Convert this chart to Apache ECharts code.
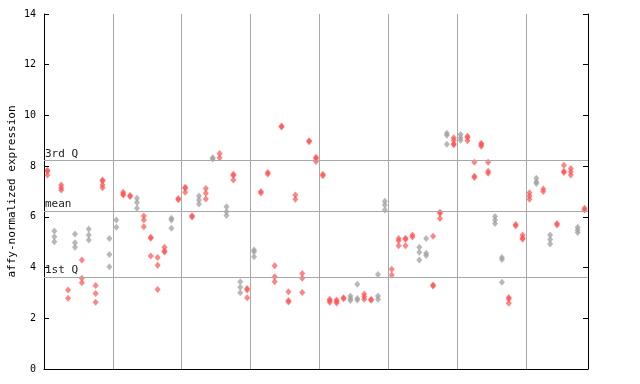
<!DOCTYPE html>
<html><head><meta charset="utf-8">
<script src="https://cdn.jsdelivr.net/npm/echarts@6/dist/echarts.min.js"></script>
<style>html,body{margin:0;padding:0;background:#fff}#c{width:640px;height:384px}</style>
</head><body><div id="c"></div>
<script>
// one entry per sample (replicate values)
const sampleValues = [
  [7.84,7.80,7.65],[5.44,5.22,5.02],[7.26,7.15,7.06],[3.12,2.79],[5.32,4.98,4.80],
  [4.30,3.58,3.40],[5.52,5.28,5.09],[3.29,2.98,2.63],[7.45,7.41,7.26,7.15],[5.15,4.52,4.03],
  [5.88,5.59],[6.97,6.90,6.86],[6.84,6.80],[6.73,6.57,6.34],[6.03,5.88,5.61],
  [5.20,5.16,4.46],[4.40,4.09,3.14],[4.80,4.65,4.61],[5.95,5.88,5.55],[6.72,6.67],
  [7.17,7.13,6.97],[6.04,5.99],[6.82,6.66,6.51],[7.12,6.93,6.70],[8.33,8.28],
  [8.50,8.33],[6.40,6.20,6.05],[7.68,7.63,7.45],[3.44,3.22,3.01],[3.17,3.12,2.81],
  [4.69,4.62,4.43],[7.00,6.94],[7.75,7.69],[4.07,3.64,3.44],[9.58,9.54],
  [3.05,2.70,2.64],[6.86,6.69],[3.77,3.58,3.02],[9.00,8.96],[8.35,8.30,8.18],
  [7.68,7.62],[2.75,2.69,2.63],[2.72,2.66,2.60],[2.81,2.77],[2.88,2.78,2.70],
  [3.34,2.78,2.72],[2.96,2.85,2.75],[2.75,2.71],[3.73,2.88,2.75],[6.62,6.47,6.27],
  [3.93,3.71],[5.15,5.06,4.86],[5.16,5.11,4.86],[5.28,5.21],[4.80,4.60,4.30],
  [5.15,4.56,4.48],[5.24,3.31,3.27],[6.18,6.13,5.94],[9.30,9.22,8.86],[9.12,9.02,8.88,8.84],
  [9.25,9.12,9.02],[9.18,9.13,9.00],[8.15,7.60,7.55],[8.90,8.85,8.78],[8.15,7.80,7.72],
  [6.01,5.88,5.74],[4.40,4.32,3.42],[2.82,2.76,2.59],[5.70,5.65],[5.28,5.18,5.12],
  [6.95,6.82,6.69],[7.52,7.38,7.32],[7.10,7.00],[5.28,5.11,4.93],[5.74,5.68],
  [8.04,7.80,7.75],[7.91,7.78,7.65],[5.59,5.48,5.38],[6.34,6.27]
];
// r = red, g = grey (one letter per sample)
const sampleColors =
  "rgrrgrgrrg" + "grrgrrrrgr" + "rrgrgrgrgr" + "grrrrrrrrr" +
  "rrrrggrrgg" + "rrrrggrrgr" + "grrrrggrrr" + "rgrgrrrgr";
const quartileNames = ["3rd Q", "mean", "1st Q"];
const quartileValues = [8.23, 6.23, 3.63];
const yMin = 0, yMax = 14, yStep = 2;
const sampleCount = 79, groupSize = 10;

const redPts = [], greyPts = [];
sampleValues.forEach((vals, i) => {
  vals.forEach(v => {
    (sampleColors[i] === "g" ? greyPts : redPts).push([i + 0.5, v]);
  });
});

const mono = "DejaVu Sans Mono";
const chart = echarts.init(document.getElementById("c"), null, {renderer: "canvas"});
chart.setOption({
  animation: false,
  grid: {left: 44, right: 52, top: 14, bottom: 15, outerBoundsMode: "none", containLabel: false},
  xAxis: {
    type: "value", min: 0, max: sampleCount, interval: groupSize,
    axisLine: {show: true, lineStyle: {color: "#000", width: 1}},
    axisTick: {show: false}, axisLabel: {show: false},
    splitLine: {show: true, lineStyle: {color: "#a8a8a8", width: 1}}
  },
  yAxis: [{
    type: "value", min: yMin, max: yMax, interval: yStep,
    name: "affy-normalized expression", nameLocation: "middle", nameGap: 26, nameMoveOverlap: false,
    nameTextStyle: {fontFamily: mono, fontSize: 11, color: "#000"},
    axisLine: {show: true, lineStyle: {color: "#000", width: 1}},
    axisTick: {show: true, inside: true, length: 5, lineStyle: {color: "#000"}},
    axisLabel: {fontFamily: mono, fontSize: 10, color: "#000", margin: 8},
    splitLine: {show: false}
  }, {
    type: "value", min: yMin, max: yMax, interval: yStep, position: "right",
    axisLine: {show: true, lineStyle: {color: "#000", width: 1}},
    axisTick: {show: true, inside: true, length: 5, lineStyle: {color: "#000"}},
    axisLabel: {show: false}, splitLine: {show: false}
  }],
  series: [{
    type: "scatter", data: [], silent: true,
    markLine: {
      silent: true, symbol: ["none", "none"], animation: false,
      lineStyle: {color: "#a8a8a8", width: 1, type: "solid"},
      label: {position: "insideStartTop", distance: [1, 1], fontFamily: mono, fontSize: 11, color: "#222",
        formatter: p => p.name},
      data: quartileNames.map((n, k) => ({name: n, yAxis: quartileValues[k]}))
    }
  }, {
    type: "scatter", symbol: "diamond", symbolSize: [6, 7],
    itemStyle: {color: "#a0a0a0", opacity: 0.75}, data: greyPts
  }, {
    type: "scatter", symbol: "diamond", symbolSize: [6, 7],
    itemStyle: {color: "#ff5050", opacity: 0.7}, data: redPts
  }]
});
</script></body></html>
